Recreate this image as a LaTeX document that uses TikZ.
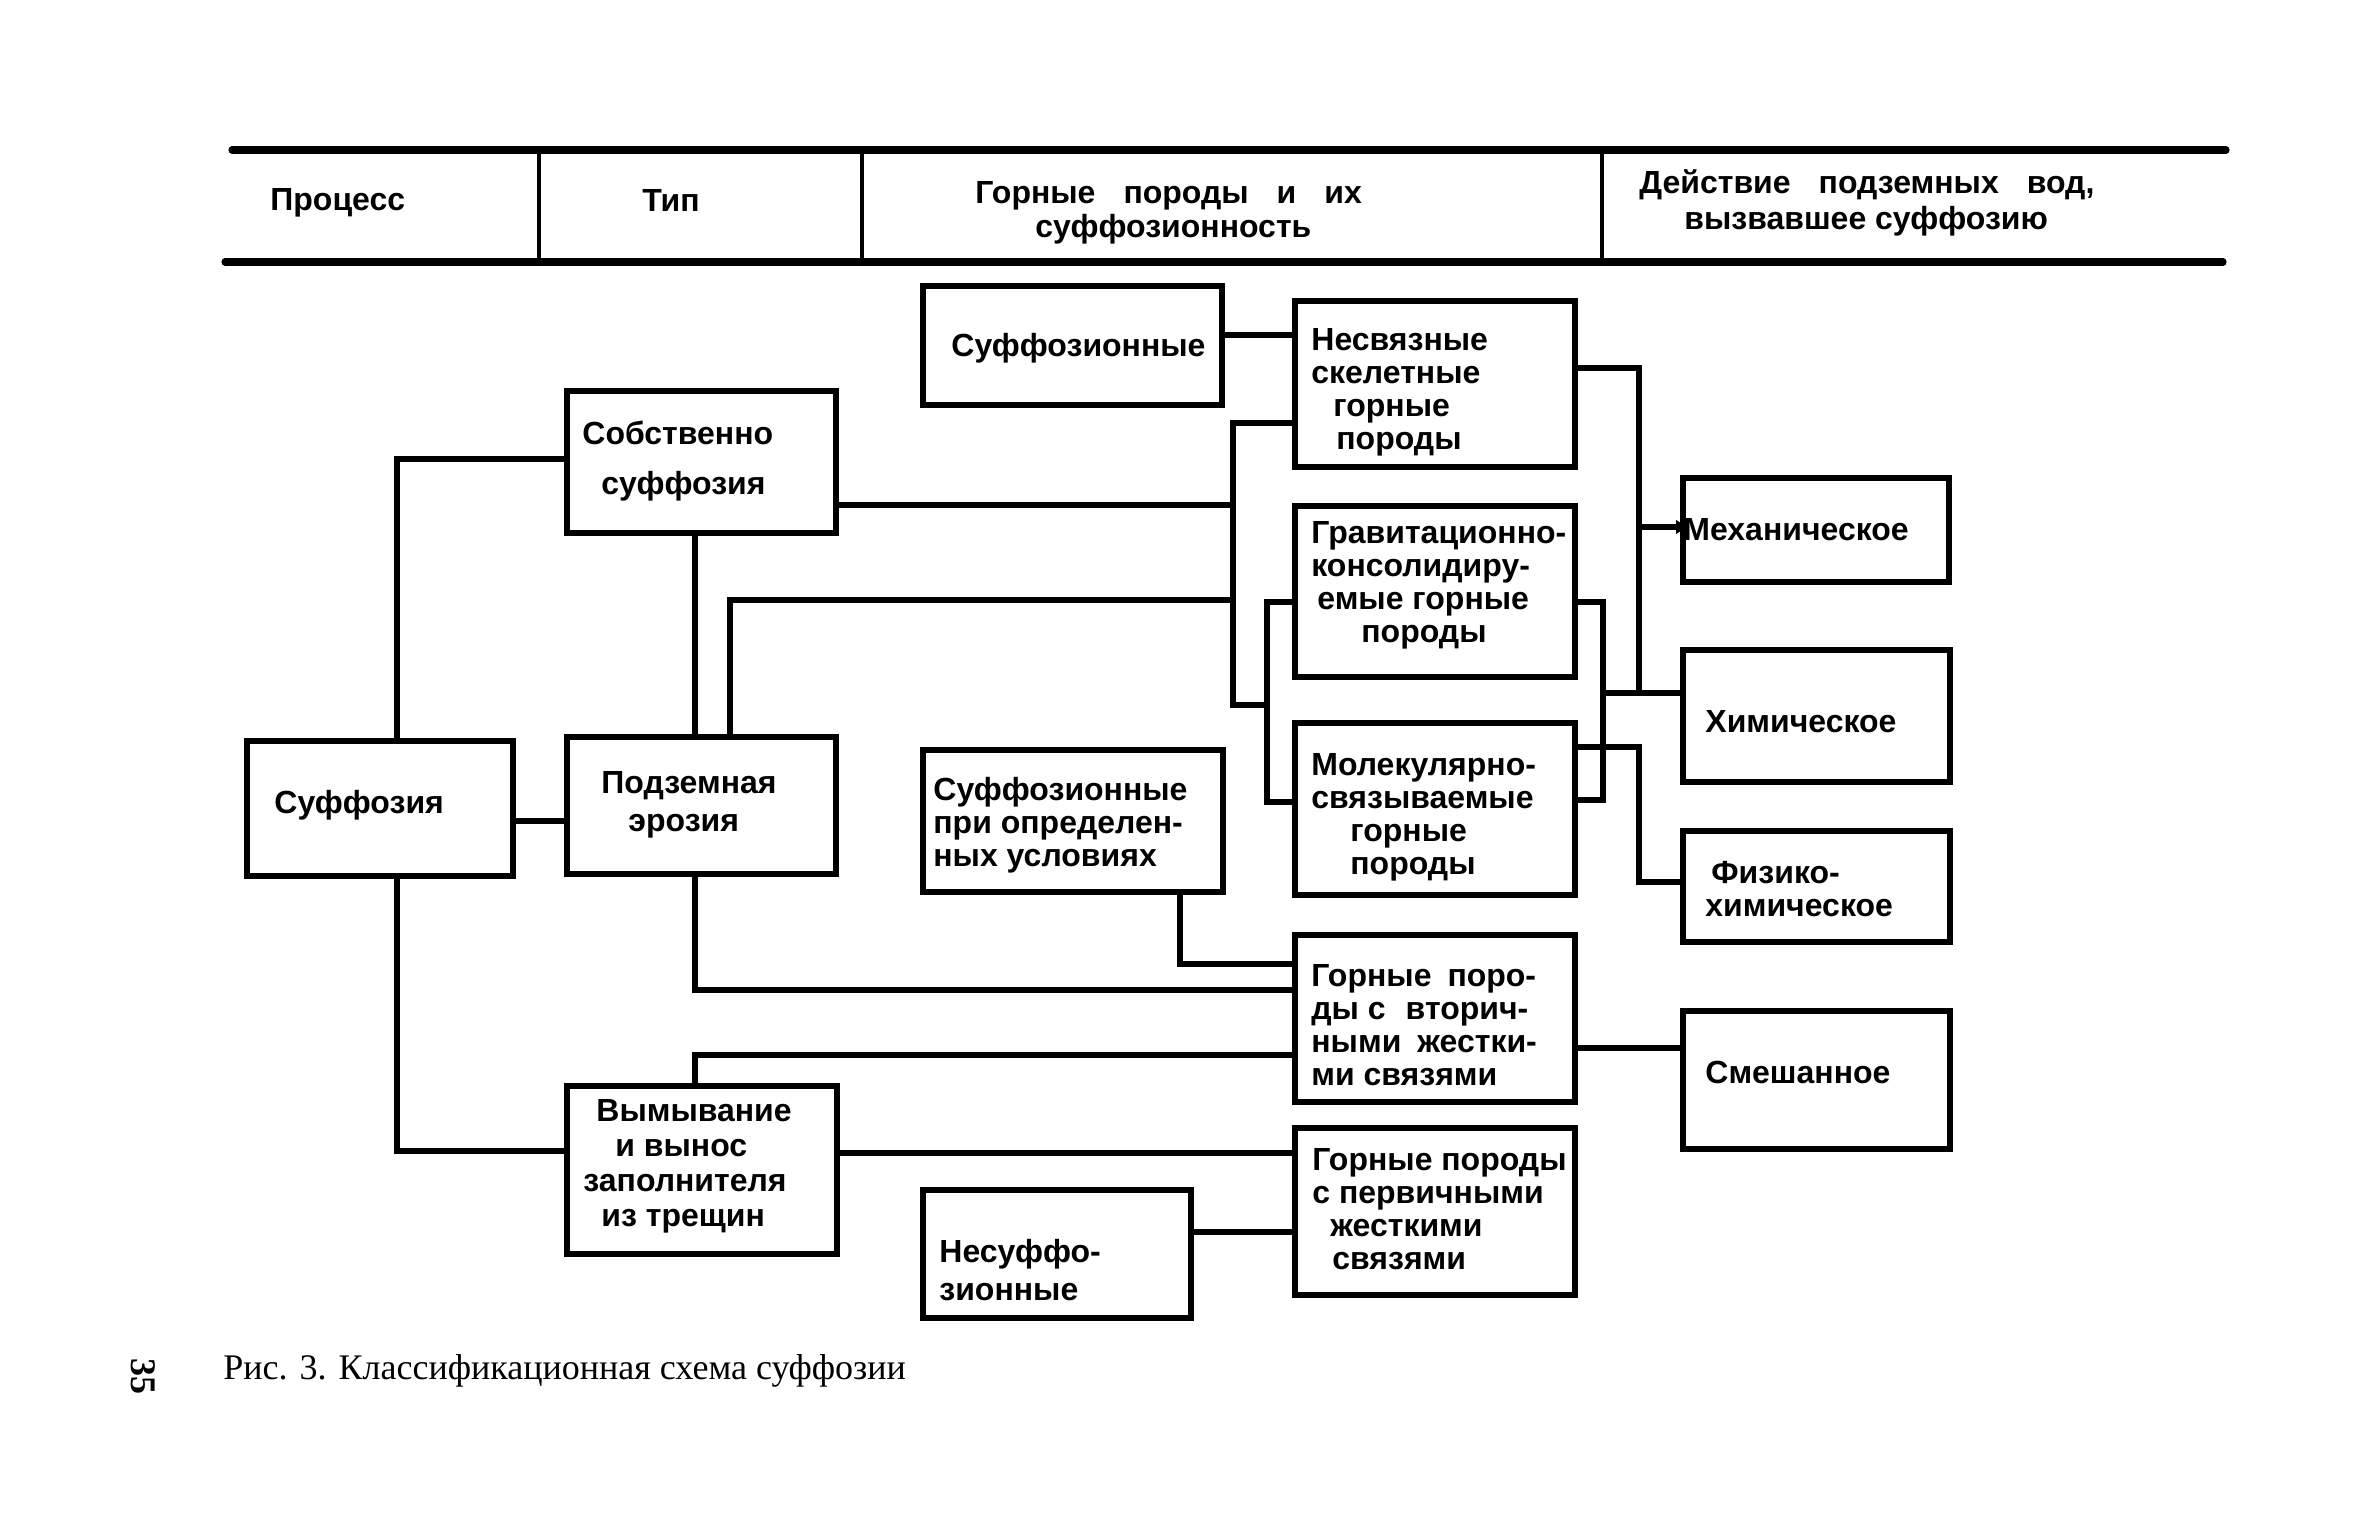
\documentclass[tikz,border=0pt]{standalone}
\usepackage{fontspec}
\setmainfont{Liberation Serif}
\newfontfamily\hdr{Liberation Sans}
\usetikzlibrary{arrows.meta}
\tikzset{
  box/.style={draw, line width=3pt, rectangle, inner sep=0pt, line join=miter},
  txt/.style={font=\hdr\bfseries\fontsize{16}{16.5}\selectfont, align=left, inner sep=0pt, anchor=west},
  conn/.style={line width=2.6pt, line join=miter},
  hrule/.style={line width=3.6pt, line cap=round},
  vrule/.style={line width=2pt},
}
\begin{document}
\begin{tikzpicture}[x=0.5pt,y=-0.5pt]
\useasboundingbox (0,0) rectangle (2362,1534);

% header
\coordinate (ht1) at (232,150); \coordinate (ht2) at (2226,150);
\coordinate (hb1) at (225,262); \coordinate (hb2) at (2223,262);
\draw[hrule] (ht1) -- (ht2);
\draw[hrule] (hb1) -- (hb2);
\foreach \xx in {539,862,1602} \draw[vrule] (\xx,150) -- (\xx,262);
\node[txt] (h1) at (270,203) {Процесс};
\node[txt] (h2) at (642,200) {Тип};
\node[txt] (h3a) at (975,196) {Горные\hspace{14pt}породы\hspace{14pt}и\hspace{14pt}их};
\node[txt] (h3b) at (1035,229) {суффозионность};
\node[txt] (h4a) at (1639,185) {Действие\hspace{14pt}подземных\hspace{14pt}вод,};
\node[txt] (h4b) at (1684,221) {вызвавшее суффозию};

% boxes
\node[box, minimum width=133pt, minimum height=67.5pt] (suf) at (380,808.5) {};
\node[box, minimum width=134.5pt, minimum height=71pt] (sobs) at (701.5,462) {};
\node[box, minimum width=134.5pt, minimum height=68.5pt] (podz) at (701.5,805.5) {};
\node[box, minimum width=135pt, minimum height=84pt] (vym) at (702,1170) {};
\node[box, minimum width=149.5pt, minimum height=59.5pt] (sfz) at (1072.5,345.5) {};
\node[box, minimum width=150pt, minimum height=71pt] (sfzu) at (1073,821) {};
\node[box, minimum width=134pt, minimum height=64pt] (nesf) at (1057,1254) {};
\node[box, minimum width=140pt, minimum height=83pt] (nesv) at (1435,384) {};
\node[box, minimum width=140pt, minimum height=85.5pt] (grav) at (1435,591.5) {};
\node[box, minimum width=140pt, minimum height=86pt] (mol) at (1435,809) {};
\node[box, minimum width=140pt, minimum height=83.5pt] (vtor) at (1435,1018.5) {};
\node[box, minimum width=140pt, minimum height=83.5pt] (perv) at (1435,1211.5) {};
\node[box, minimum width=133pt, minimum height=52pt] (mekh) at (1816,530) {};
\node[box, minimum width=133.5pt, minimum height=66pt] (khim) at (1816.5,716) {};
\node[box, minimum width=133.5pt, minimum height=55.5pt] (fiz) at (1816.5,886.5) {};
\node[box, minimum width=133.5pt, minimum height=69pt] (smesh) at (1816.5,1080) {};

% box texts
\node[txt] (suf-t) at (274,805) {Суффозия};
\node[txt] (sobs-t) at (582,461) {Собственно\\[8.5pt]\hspace*{9.5pt}суффозия};
\node[txt] (podz-t) at (601,805) {Подземная\\[2.5pt]\hspace*{13.5pt}эрозия};
\node[txt] (vym-t) at (583,1166) {\hspace*{6.5pt}Вымывание\\[1pt]\hspace*{16pt}и вынос\\[1pt]заполнителя\\[1pt]\hspace*{9pt}из трещин};
\node[txt] (sfz-t) at (951,348) {Суффозионные};
\node[txt] (sfzu-t) at (933,825) {Суффозионные\\при определен-\\ных условиях};
\node[txt] (nesf-t) at (939,1270) {Несуффо-\\[2.5pt]зионные};
\node[txt] (nesv-t) at (1311,392) {Несвязные\\скелетные\\\hspace*{11pt}горные\\\hspace*{12.5pt}породы};
\node[txt] (grav-t) at (1311,585) {Гравитационно-\\консолидиру-\\\hspace*{3pt}емые горные\\\hspace*{25pt}породы};
\node[txt] (mol-t) at (1311,817) {Молекулярно-\\связываемые\\\hspace*{19.5pt}горные\\\hspace*{19.5pt}породы};
\node[txt] (vtor-t) at (1311,1025) {Горные\hspace{8pt}поро-\\ды с\hspace{10pt}вторич-\\ными\hspace{8pt}жестки-\\ми связями};
\node[txt] (perv-t) at (1312,1209) {Горные породы\\с первичными\\\hspace*{9pt}жесткими\\\hspace*{10pt}связями};
\node[txt] (mekh-t) at (1683,530) {Механическое};
\node[txt] (khim-t) at (1705,722) {Химическое};
\node[txt] (fiz-t) at (1705,889) {\hspace*{3pt}Физико-\\химическое};
\node[txt] (smesh-t) at (1705,1072) {Смешанное};

% connector coordinates
\coordinate (b1) at (397,459);
\coordinate (b2) at (397,1151);
\coordinate (c2) at (540,821);
\coordinate (v1) at (695,700);
\coordinate (c4) at (730,600);
\coordinate (c5) at (1233,505);
\coordinate (b3) at (1233,423);
\coordinate (b4) at (1233,705);
\coordinate (b5) at (1267,705);
\coordinate (b6) at (1267,602);
\coordinate (b7) at (1267,802);
\coordinate (c8) at (1260,335);
\coordinate (r1) at (1639,368);
\coordinate (r2) at (1639,693);
\coordinate (r3) at (1603,602);
\coordinate (r4) at (1603,800);
\coordinate (r5) at (1603,693);
\coordinate (r6) at (1639,527);
\coordinate (r7) at (1639,747);
\coordinate (r8) at (1639,882);
\coordinate (d1) at (1180,964);
\coordinate (d2) at (695,990);
\coordinate (d3) at (695,1055);
\coordinate (d4) at (1620,1048);
\coordinate (d5) at (1000,1153);
\coordinate (d6) at (1240,1232);

% connectors
\draw[conn] (suf.north -| b1) -- (b1) -- (sobs.west |- b1);
\draw[conn] (suf.south -| b2) -- (b2) -- (vym.west |- b2);
\draw[conn] (suf.east |- c2) -- (podz.west |- c2);
\draw[conn] (sobs.south -| v1) -- (podz.north -| v1);
\draw[conn] (podz.north -| c4) -- (c4) -- (c4 -| b3);
\draw[conn] (sobs.east |- c5) -- (c5);
\draw[conn] (nesv.west |- b3) -- (b3) -- (b4) -- (b5);
\draw[conn] (grav.west |- b6) -- (b6) -- (b7) -- (mol.west |- b7);
\draw[conn] (sfz.east |- c8) -- (nesv.west |- c8);
\draw[conn] (nesv.east |- r1) -- (r1) -- (r2);
\draw[conn, -{Latex[length=7pt,width=7.5pt]}] (r6) -- ([xshift=5pt]mekh.west |- r6);
\draw[conn] (grav.east |- r3) -- (r3) -- (r4) -- (mol.east |- r4);
\draw[conn] (r5) -- (khim.west |- r5);
\draw[conn] (mol.east |- r7) -- (r7) -- (r8) -- (fiz.west |- r8);
\draw[conn] (sfzu.south -| d1) -- (d1) -- (vtor.west |- d1);
\draw[conn] (podz.south -| d2) -- (d2) -- (vtor.west |- d2);
\draw[conn] (vym.north -| d3) -- (d3) -- (vtor.west |- d3);
\draw[conn] (vtor.east |- d4) -- (smesh.west |- d4);
\draw[conn] (vym.east |- d5) -- (perv.west |- d5);
\draw[conn] (nesf.east |- d6) -- (perv.west |- d6);

% caption and page number
\node[font=\fontsize{18}{20}\selectfont, anchor=west, inner sep=0pt] (cap) at (223,1371) {Рис. 3. Классификационная схема суффозии};
\node[font=\bfseries\fontsize{18}{20}\selectfont, rotate=-90, inner sep=0pt] (pg) at (143,1376) {35};
\end{tikzpicture}
\end{document}
